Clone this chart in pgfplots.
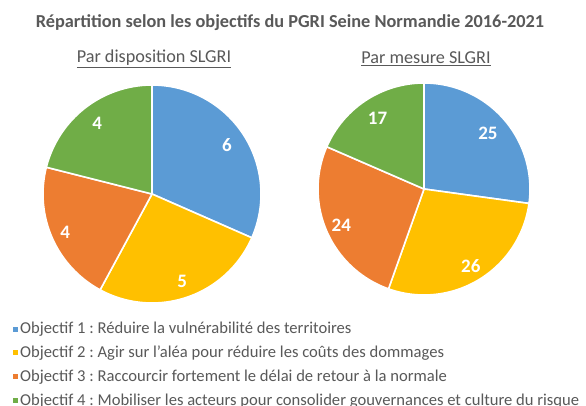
\documentclass[border=0pt]{standalone}
\usepackage{fontspec}
\setmainfont{Carlito}
\usepackage{pgfplots}
\pgfplotsset{compat=1.18}
\definecolor{cBlue}{HTML}{5B9BD5}
\definecolor{cYellow}{HTML}{FFC000}
\definecolor{cOrange}{HTML}{ED7D31}
\definecolor{cGreen}{HTML}{70AD47}
\definecolor{txt}{HTML}{595959}

% data: left pie (par disposition SLGRI)
\def\La{6}\def\Lb{5}\def\Lc{4}\def\Ld{4}
% data: right pie (par mesure SLGRI)
\def\Ra{25}\def\Rb{26}\def\Rc{24}\def\Rd{17}

\pgfmathsetmacro\LT{\La+\Lb+\Lc+\Ld}
\pgfmathsetmacro\LAa{90}
\pgfmathsetmacro\LAb{90-360*\La/\LT}
\pgfmathsetmacro\LAc{\LAb-360*\Lb/\LT}
\pgfmathsetmacro\LAd{\LAc-360*\Lc/\LT}
\pgfmathsetmacro\LAe{\LAd-360*\Ld/\LT}
\pgfmathsetmacro\LMa{(\LAa+\LAb)/2}
\pgfmathsetmacro\LMb{(\LAb+\LAc)/2}
\pgfmathsetmacro\LMc{(\LAc+\LAd)/2}
\pgfmathsetmacro\LMd{(\LAd+\LAe)/2}

\pgfmathsetmacro\RT{\Ra+\Rb+\Rc+\Rd}
\pgfmathsetmacro\RAa{90}
\pgfmathsetmacro\RAb{90-360*\Ra/\RT}
\pgfmathsetmacro\RAc{\RAb-360*\Rb/\RT}
\pgfmathsetmacro\RAd{\RAc-360*\Rc/\RT}
\pgfmathsetmacro\RAe{\RAd-360*\Rd/\RT}
\pgfmathsetmacro\RMa{(\RAa+\RAb)/2}
\pgfmathsetmacro\RMb{(\RAb+\RAc)/2}
\pgfmathsetmacro\RMc{(\RAc+\RAd)/2}
\pgfmathsetmacro\RMd{(\RAd+\RAe)/2}

\pgfplotsset{
  pieaxis/.style={hide axis, scale only axis, anchor=center,
    xmin=-1, xmax=1, ymin=-1, ymax=1, clip=false},
  sector/.style={fill=#1, draw=white, line width=1.6pt, line join=round,
    data cs=polar, samples=80, forget plot},
}
\tikzset{lab/.style={text=white, font=\bfseries\fontsize{19}{19}\selectfont}}

\begin{document}
\frenchspacing
\begin{tikzpicture}
\useasboundingbox (0,0) rectangle (586pt,405pt);
\clip (0,0) rectangle (586pt,405pt);
\fill[white] (0,0) rectangle (586pt,405pt);

% title and subtitles
\node[text=txt, font=\bfseries\fontsize{18.3}{20}\selectfont] at (290pt,382pt)
  {Répartition selon les objectifs du PGRI Seine Normandie 2016-2021};
\node[text=txt, font=\fontsize{18.2}{20}\selectfont] at (154pt,346pt)
  {\underline{Par disposition SLGRI}};
\node[text=txt, font=\fontsize{18.2}{20}\selectfont] at (426pt,346pt)
  {\underline{Par mesure SLGRI}};

% left pie
\begin{axis}[pieaxis, x=109pt, y=109pt, at={(152pt,211pt)}]
  \addplot[sector=cBlue, domain=\LAb:\LAa] (x,1) -- (axis cs:0,0) -- cycle;
  \addplot[sector=cYellow, domain=\LAc:\LAb] (x,1) -- (axis cs:0,0) -- cycle;
  \addplot[sector=cOrange, domain=\LAd:\LAc] (x,1) -- (axis cs:0,0) -- cycle;
  \addplot[sector=cGreen, domain=\LAe:\LAd] (x,1) -- (axis cs:0,0) -- cycle;
  \node[lab] at (axis cs:{0.82*cos(\LMa)},{0.82*sin(\LMa)}) {\La};
  \node[lab] at (axis cs:{0.85*cos(\LMb)},{0.85*sin(\LMb)}) {\Lb};
  \node[lab] at (axis cs:{0.87*cos(\LMc)},{0.87*sin(\LMc)}) {\Lc};
  \node[lab] at (axis cs:{0.82*cos(\LMd)},{0.82*sin(\LMd)}) {\Ld};
\end{axis}

% right pie
\begin{axis}[pieaxis, x=106pt, y=106pt, at={(424pt,216pt)}]
  \addplot[sector=cBlue, domain=\RAb:\RAa] (x,1) -- (axis cs:0,0) -- cycle;
  \addplot[sector=cYellow, domain=\RAc:\RAb] (x,1) -- (axis cs:0,0) -- cycle;
  \addplot[sector=cOrange, domain=\RAd:\RAc] (x,1) -- (axis cs:0,0) -- cycle;
  \addplot[sector=cGreen, domain=\RAe:\RAd] (x,1) -- (axis cs:0,0) -- cycle;
  \node[lab] at (axis cs:{0.8*cos(\RMa)},{0.8*sin(\RMa)}) {\Ra};
  \node[lab] at (axis cs:{0.85*cos(\RMb)},{0.85*sin(\RMb)}) {\Rb};
  \node[lab] at (axis cs:{0.85*cos(\RMc)},{0.85*sin(\RMc)}) {\Rc};
  \node[lab] at (axis cs:{0.8*cos(\RMd)},{0.8*sin(\RMd)}) {\Rd};
\end{axis}

% legend
\foreach \c/\t [count=\i] in {cBlue/{Objectif 1 : Réduire la vulnérabilité des territoires},
  cYellow/{Objectif 2 : Agir sur l'aléa pour réduire les coûts des dommages},
  cOrange/{Objectif 3 : Raccourcir fortement le délai de retour à la normale},
  cGreen/{Objectif 4 : Mobiliser les acteurs pour consolider gouvernances et culture du risque}}{
  \pgfmathsetmacro\yy{405-(329+(\i-1)*23.9)}
  \fill[\c] (12.5pt,\yy pt-2.5pt) rectangle (17.5pt,\yy pt+2.5pt);
  \node[anchor=west, inner sep=0pt, text=txt, font=\fontsize{16.6}{18}\selectfont]
    at (20pt,\yy pt) {\t};
}
\end{tikzpicture}
\end{document}
